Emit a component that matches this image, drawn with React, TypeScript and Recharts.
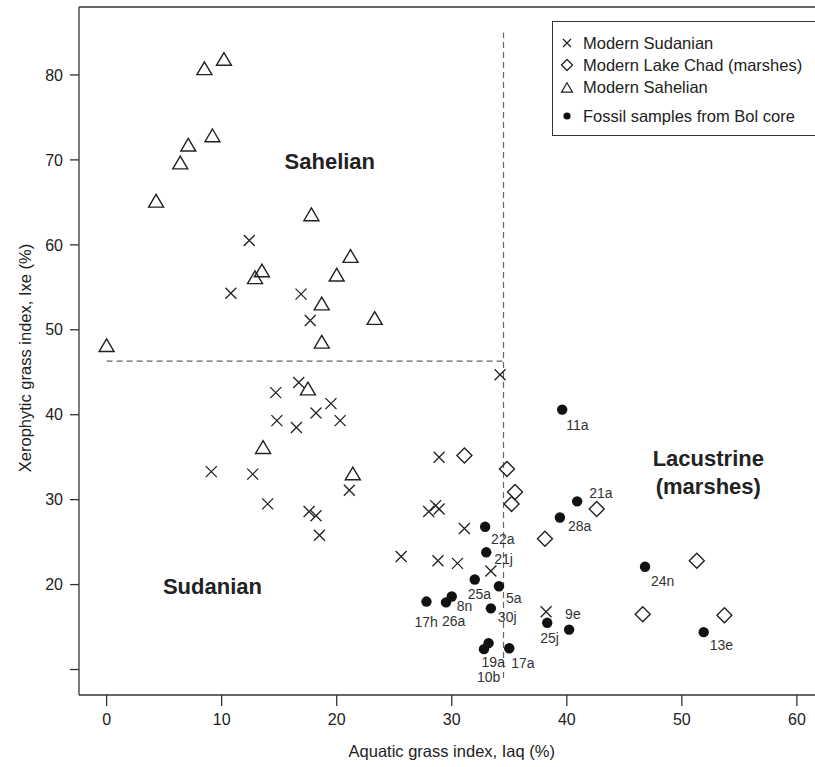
import { Legend, ReferenceDot, ReferenceLine, Scatter, ScatterChart, XAxis, YAxis } from "recharts"

const FONT = "'Liberation Sans', Arial, Helvetica, sans-serif"
const INK = "#222"

const X_TICKS = [0, 10, 20, 30, 40, 50, 60]
const Y_TICKS = [10, 20, 30, 40, 50, 60, 70, 80]

// [Iaq, Ixe] pairs
const SUDANIAN: [number, number][] = [
    [12.4, 60.5], [10.8, 54.3], [16.9, 54.2], [17.7, 51.1],
    [16.7, 43.8], [14.7, 42.6], [19.5, 41.3], [18.2, 40.2], [14.8, 39.3], [20.3, 39.3], [16.5, 38.5],
    [9.1, 33.3], [12.7, 33.0], [21.1, 31.1], [14.0, 29.5], [17.6, 28.6], [18.2, 28.1], [18.5, 25.8],
    [25.6, 23.3], [28.9, 35.0], [28.0, 28.6], [28.6, 29.3], [28.9, 28.9], [31.1, 26.6], [28.8, 22.8],
    [30.5, 22.5], [33.4, 21.6], [38.2, 16.8], [34.2, 44.7],
]

const LAKE_CHAD: [number, number][] = [
    [31.1, 35.2], [34.8, 33.6], [35.5, 30.9], [35.2, 29.5], [42.6, 28.9],
    [38.1, 25.4], [46.6, 16.5], [51.3, 22.8], [53.7, 16.4],
]

const SAHELIAN: [number, number][] = [
    [10.2, 81.8], [8.5, 80.7], [9.2, 72.8], [7.1, 71.7], [6.4, 69.6], [4.3, 65.1],
    [17.8, 63.5], [21.2, 58.6], [13.5, 56.9], [12.9, 56.1], [20.0, 56.4], [18.7, 53.0],
    [23.3, 51.3], [18.7, 48.5], [0, 48.1], [17.5, 43.0], [13.6, 36.1], [21.4, 33.0],
]

const FOSSIL_LABELS = [
    "11a", "21a", "28a", "22a", "21j", "25a", "5a", "17h", "8n",
    "26a", "30j", "25j", "9e", "19a", "10b", "17a", "24n", "13e",
]
const FOSSIL: [number, number][] = [
    [39.6, 40.6], [40.9, 29.8], [39.4, 27.9], [32.9, 26.8], [33.0, 23.8], [32.0, 20.6], [34.1, 19.8],
    [27.8, 18.0], [30.0, 18.6], [29.5, 17.9], [33.4, 17.2], [38.3, 15.5], [40.2, 14.7], [33.2, 13.1],
    [32.8, 12.4], [35.0, 12.5], [46.8, 22.1], [51.9, 14.4],
]

const LEGEND_ITEMS = ["Modern Sudanian", "Modern Lake Chad (marshes)", "Modern Sahelian", "Fossil samples from Bol core"]

const DIVIDER_X = 34.5
const DIVIDER_Y = 46.3

// label placement next to each fossil point, in px (dx to text start, dy to text middle)
const LABEL_OFFSETS: Record<string, [number, number]> = {
    "11a": [4, 15], "21a": [12, -8], "28a": [8, 9], "22a": [6, 12], "21j": [8, 7],
    "25a": [-7, 15], "5a": [7, 12], "17h": [-12, 20], "8n": [5, 10], "26a": [-4, 19],
    "30j": [7, 9], "25j": [-7, 15], "9e": [-4, -16], "19a": [-7, 19], "10b": [-7, 28],
    "17a": [2, 15], "24n": [6, 14], "13e": [6, 13],
}

const toPoints = (pairs: [number, number][]) => pairs.map(([x, y]) => ({ x, y }))

const cross = (cx: number, cy: number, s: number) =>
    `M${cx - s},${cy - s}L${cx + s},${cy + s}M${cx - s},${cy + s}L${cx + s},${cy - s}`
const diamond = (cx: number, cy: number, s: number) =>
    `M${cx},${cy - s}L${cx + s},${cy}L${cx},${cy + s}L${cx - s},${cy}Z`
const triangle = (cx: number, cy: number, s: number) =>
    `M${cx},${cy - s * 0.95}L${cx + s},${cy + s * 0.75}L${cx - s},${cy + s * 0.75}Z`

const CrossShape = ({ cx, cy }: any) => <path d={cross(cx, cy, 5.5)} stroke={INK} strokeWidth={1.3} fill="none" />
const DiamondShape = ({ cx, cy }: any) => <path d={diamond(cx, cy, 7.5)} stroke={INK} strokeWidth={1.4} fill="none" />
const TriangleShape = ({ cx, cy }: any) => <path d={triangle(cx, cy, 7.5)} stroke={INK} strokeWidth={1.4} fill="none" />

const FossilShape = ({ cx, cy, payload }: any) => {
    const [dx, dy] = LABEL_OFFSETS[payload.label] ?? [6, 12]
    return (
        <g>
            <circle cx={cx} cy={cy} r={5.2} fill="#111" />
            <text x={cx + dx} y={cy + dy} dominantBaseline="central" fontSize={14} fontFamily={FONT} fill="#333">
                {payload.label}
            </text>
        </g>
    )
}

const LegendIcon = ({ index }: { index: number }) => (
    <svg width={20} height={20} style={{ position: "absolute", left: 4, top: -10 }}>
        {index === 0 && <path d={cross(10, 10, 4)} stroke={INK} strokeWidth={1.2} fill="none" />}
        {index === 1 && <path d={diamond(10, 10, 5.5)} stroke={INK} strokeWidth={1.3} fill="none" />}
        {index === 2 && <path d={triangle(10, 11, 5.5)} stroke={INK} strokeWidth={1.2} fill="none" />}
        {index === 3 && <circle cx={10} cy={10} r={3.6} fill="#111" />}
    </svg>
)

const LegendBox = () => {
    const rows = [22, 44, 66, 95]
    return (
        <div
            style={{
                position: "relative",
                width: 276,
                height: 115,
                boxSizing: "border-box",
                border: "1px solid #333",
                background: "#fff",
                fontFamily: FONT,
                fontSize: 16.5,
                color: INK,
            }}
        >
            {LEGEND_ITEMS.map((item, i) => (
                <div key={item} style={{ position: "absolute", left: 0, top: rows[i] - 1 }}>
                    <LegendIcon index={i} />
                    <span style={{ position: "absolute", left: 30, top: -10, lineHeight: "20px", whiteSpace: "nowrap" }}>
                        {item}
                    </span>
                </div>
            ))}
        </div>
    )
}

const YTitle = ({ viewBox }: any) => {
    const x = (viewBox?.x ?? 0) + 25
    const y = (viewBox?.y ?? 7) + (viewBox?.height ?? 688) / 2 + 7
    return (
        <text x={x} y={y} transform={`rotate(-90 ${x} ${y})`} textAnchor="middle" dominantBaseline="central"
            fontSize={16.5} fontFamily={FONT} fill={INK}>
            Xerophytic grass index, Ixe (%)
        </text>
    )
}

const regionLabel = { fontSize: 22, fontWeight: "bold", fontFamily: FONT, fill: INK, position: "center" as const }

const App = () => {
    const fossil = FOSSIL.map(([x, y], i) => ({ x, y, label: FOSSIL_LABELS[i] }))
    const axisStroke = { stroke: "#333", strokeWidth: 1.3 }
    const tick = { fill: INK, fontSize: 16, fontFamily: FONT }

    return (
        <div style={{ position: "absolute", left: 0, top: 0, width: 815, height: 767, overflow: "hidden", background: "#fff" }}>
            <ScatterChart width={830} height={767} margin={{ top: 7, right: 5.5, bottom: 0, left: 0 }}>
                <XAxis
                    type="number"
                    dataKey="x"
                    domain={[-2.4, 62.4]}
                    ticks={X_TICKS}
                    allowDataOverflow
                    height={72}
                    tickSize={11}
                    tickMargin={8}
                    axisLine={axisStroke}
                    tickLine={axisStroke}
                    tick={tick}
                    label={{ value: "Aquatic grass index, Iaq (%)", position: "insideBottom", offset: 10, fontSize: 16.5, fontFamily: FONT, fill: INK }}
                />
                <YAxis
                    type="number"
                    dataKey="y"
                    domain={[7, 88]}
                    ticks={Y_TICKS}
                    allowDataOverflow
                    width={79}
                    tickSize={9}
                    tickMargin={7}
                    axisLine={axisStroke}
                    tickLine={axisStroke}
                    tick={tick}
                    tickFormatter={(v) => (v === 10 ? "" : String(v))}
                    label={<YTitle />}
                />
                <ReferenceLine y={88} stroke="#333" strokeWidth={1.3} />
                <ReferenceLine
                    segment={[{ x: DIVIDER_X, y: 9 }, { x: DIVIDER_X, y: 85 }]}
                    stroke="#666"
                    strokeWidth={1.2}
                    strokeDasharray="6 4"
                />
                <ReferenceLine
                    segment={[{ x: 0, y: DIVIDER_Y }, { x: DIVIDER_X, y: DIVIDER_Y }]}
                    stroke="#666"
                    strokeWidth={1.2}
                    strokeDasharray="6 4"
                />
                <ReferenceDot x={19.4} y={69.9} r={0} fill="none" stroke="none" label={{ value: "Sahelian", ...regionLabel }} />
                <ReferenceDot x={9.2} y={19.8} r={0} fill="none" stroke="none" label={{ value: "Sudanian", ...regionLabel }} />
                <ReferenceDot x={52.3} y={34.9} r={0} fill="none" stroke="none" label={{ value: "Lacustrine", ...regionLabel }} />
                <ReferenceDot x={52.3} y={31.6} r={0} fill="none" stroke="none" label={{ value: "(marshes)", ...regionLabel }} />
                <Scatter name="Modern Sudanian" data={toPoints(SUDANIAN)} shape={CrossShape} isAnimationActive={false} />
                <Scatter name="Modern Lake Chad (marshes)" data={toPoints(LAKE_CHAD)} shape={DiamondShape} isAnimationActive={false} />
                <Scatter name="Modern Sahelian" data={toPoints(SAHELIAN)} shape={TriangleShape} isAnimationActive={false} />
                <Scatter name="Fossil samples from Bol core" data={fossil} shape={FossilShape} isAnimationActive={false} />
                <Legend
                    layout="vertical"
                    align="center"
                    verticalAlign="middle"
                    wrapperStyle={{ left: 552, top: 21 }}
                    content={() => <LegendBox />}
                />
            </ScatterChart>
        </div>
    )
}

export default App
